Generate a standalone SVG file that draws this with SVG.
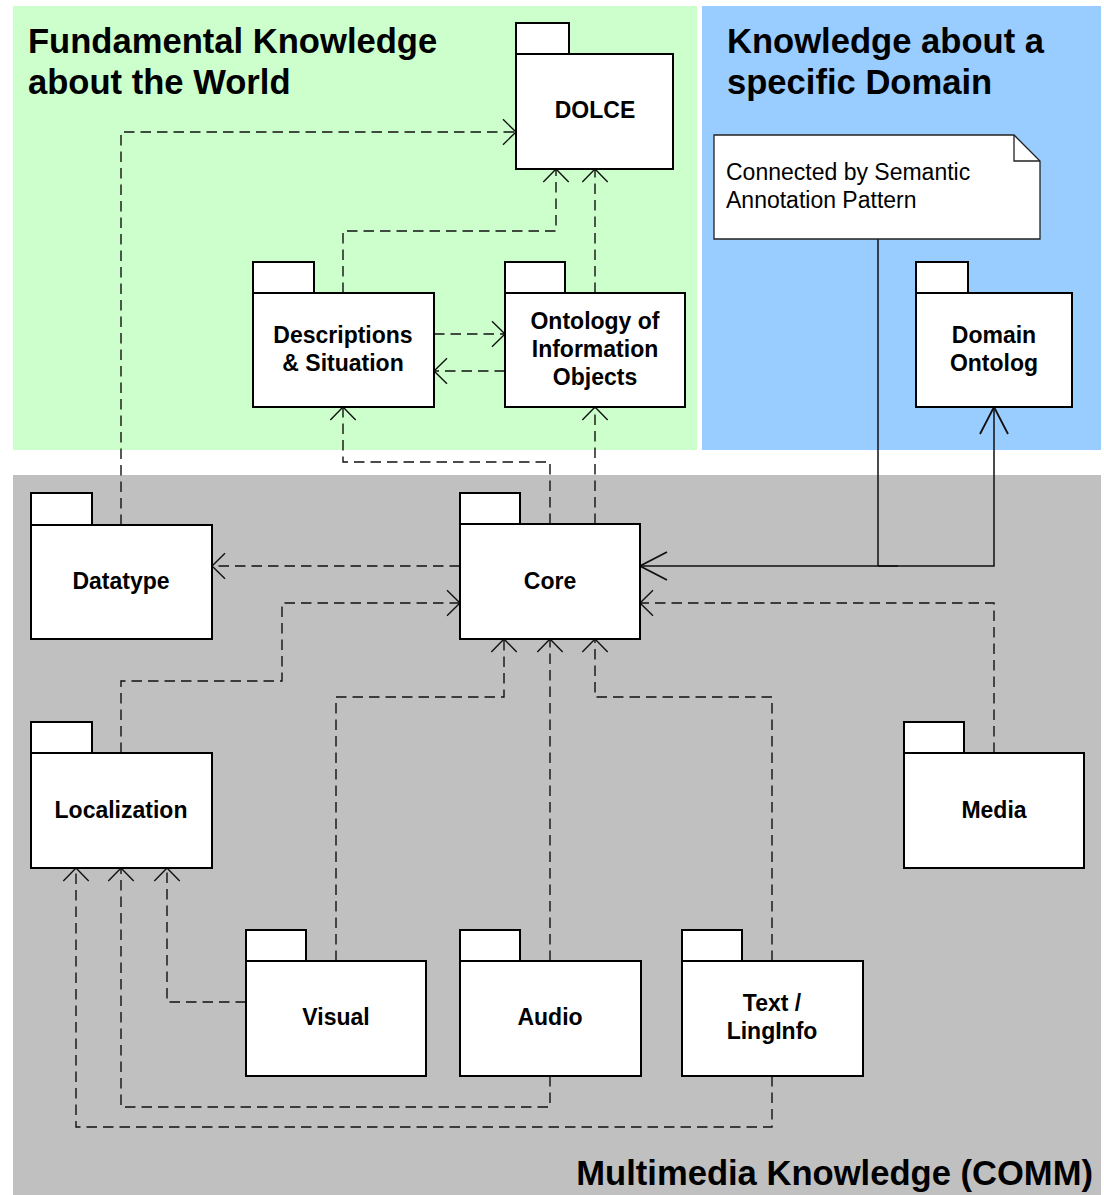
<svg xmlns="http://www.w3.org/2000/svg" width="1104" height="1195" viewBox="0 0 1104 1195">
<style>
.pkg rect{fill:#fff;stroke:#000;stroke-width:2}
.lbl{font-family:"Liberation Sans",Arial,sans-serif;font-weight:bold;font-size:23px;text-anchor:middle;fill:#000}
.title{font-family:"Liberation Sans",Arial,sans-serif;font-weight:bold;font-size:34.6px;fill:#000}
.dash{fill:none;stroke:#111;stroke-width:1.4;stroke-dasharray:10.5,6}
.solid{fill:none;stroke:#111;stroke-width:1.5}
</style>
<defs>
<marker id="a" markerUnits="userSpaceOnUse" orient="auto" markerWidth="40" markerHeight="40" viewBox="-20 -20 40 40" refX="0" refY="0" overflow="visible">
<path d="M-13,-12.7 L0,0 L-13,12.7" fill="none" stroke="#111" stroke-width="1.4" stroke-dasharray="none"/>
</marker>
<marker id="b" markerUnits="userSpaceOnUse" orient="auto" markerWidth="60" markerHeight="60" viewBox="-30 -30 60 60" refX="0" refY="0" overflow="visible">
<path d="M-27,-14 L0,0 L-27,14" fill="none" stroke="#111" stroke-width="1.8"/>
</marker>
</defs>
<rect x="0" y="0" width="1104" height="1195" fill="#fff"/>
<g id="regions">
<rect x="13" y="6" width="684" height="444" fill="#ccffcc"/>
<rect x="702" y="6" width="399" height="444" fill="#99ccff"/>
<rect x="13" y="475" width="1088" height="720" fill="#c0c0c0"/>
<text class="title" x="28" y="53">Fundamental Knowledge</text>
<text class="title" x="28" y="94">about the World</text>
<text class="title" x="727" y="53">Knowledge about a</text>
<text class="title" x="727" y="94">specific Domain</text>
<text class="title" x="1093" y="1185" text-anchor="end">Multimedia Knowledge (COMM)</text>
</g>
<g id="connectors">
<path class="dash" d="M121,525 V132 H516" marker-end="url(#a)"/>
<path class="dash" d="M343,293 V231 H556 V169" marker-end="url(#a)"/>
<path class="dash" d="M595,293 V169" marker-end="url(#a)"/>
<path class="dash" d="M434,334 H505" marker-end="url(#a)"/>
<path class="dash" d="M505,371 H434" marker-end="url(#a)"/>
<path class="dash" d="M550,524 V462 H343 V407" marker-end="url(#a)"/>
<path class="dash" d="M595,524 V407" marker-end="url(#a)"/>
<path class="dash" d="M460,566 H212" marker-end="url(#a)"/>
<path class="dash" d="M121,753 V681 H282 V603 H460" marker-end="url(#a)"/>
<path class="dash" d="M336,961 V697 H504 V639" marker-end="url(#a)"/>
<path class="dash" d="M550,961 V639" marker-end="url(#a)"/>
<path class="dash" d="M772,961 V697 H595 V639" marker-end="url(#a)"/>
<path class="dash" d="M994,753 V603 H640" marker-end="url(#a)"/>
<path class="dash" d="M246,1002 H167 V868" marker-end="url(#a)"/>
<path class="dash" d="M550,1076 V1107 H121 V868" marker-end="url(#a)"/>
<path class="dash" d="M772,1076 V1127 H76 V868" marker-end="url(#a)"/>
<path class="solid" d="M878,239 V566"/>
<path class="solid" d="M898,566 H640" marker-end="url(#b)"/>
<path class="solid" d="M878,566 H994 V407" marker-end="url(#b)"/>
</g>
<g id="note">
<path d="M714,135 H1014 L1040,161 V239 H714 Z" fill="#fff" stroke="#222" stroke-width="1.3"/>
<path d="M1014,135 V161 H1040" fill="none" stroke="#222" stroke-width="1.3"/>
<text font-family="'Liberation Sans',Arial,sans-serif" font-size="23" fill="#000"><tspan x="726" y="180">Connected by Semantic</tspan><tspan x="726" y="208">Annotation Pattern</tspan></text>
</g>
<g id="dolce" class="pkg">
<rect x="516" y="23" width="53" height="31"/><rect x="516" y="54" width="157" height="115"/>
<text class="lbl" x="595" y="118">DOLCE</text>
</g>
<g id="ds" class="pkg">
<rect x="253" y="262" width="61" height="31"/><rect x="253" y="293" width="181" height="114"/>
<text class="lbl" x="343" y="343">Descriptions</text><text class="lbl" x="343" y="371">&amp; Situation</text>
</g>
<g id="oio" class="pkg">
<rect x="505" y="262" width="60" height="31"/><rect x="505" y="293" width="180" height="114"/>
<text class="lbl" x="595" y="329">Ontology of</text><text class="lbl" x="595" y="357">Information</text><text class="lbl" x="595" y="385">Objects</text>
</g>
<g id="domain" class="pkg">
<rect x="916" y="262" width="52" height="31"/><rect x="916" y="293" width="156" height="114"/>
<text class="lbl" x="994" y="343">Domain</text><text class="lbl" x="994" y="371">Ontolog</text>
</g>
<g id="datatype" class="pkg">
<rect x="31" y="493" width="61" height="32"/><rect x="31" y="525" width="181" height="114"/>
<text class="lbl" x="121" y="589">Datatype</text>
</g>
<g id="core" class="pkg">
<rect x="460" y="493" width="60" height="31"/><rect x="460" y="524" width="180" height="115"/>
<text class="lbl" x="550" y="589">Core</text>
</g>
<g id="localization" class="pkg">
<rect x="31" y="722" width="61" height="31"/><rect x="31" y="753" width="181" height="115"/>
<text class="lbl" x="121" y="818">Localization</text>
</g>
<g id="media" class="pkg">
<rect x="904" y="722" width="60" height="31"/><rect x="904" y="753" width="180" height="115"/>
<text class="lbl" x="994" y="818">Media</text>
</g>
<g id="visual" class="pkg">
<rect x="246" y="930" width="60" height="31"/><rect x="246" y="961" width="180" height="115"/>
<text class="lbl" x="336" y="1025">Visual</text>
</g>
<g id="audio" class="pkg">
<rect x="460" y="930" width="60" height="31"/><rect x="460" y="961" width="181" height="115"/>
<text class="lbl" x="550" y="1025">Audio</text>
</g>
<g id="text" class="pkg">
<rect x="682" y="930" width="60" height="31"/><rect x="682" y="961" width="181" height="115"/>
<text class="lbl" x="772" y="1011">Text /</text><text class="lbl" x="772" y="1039">LingInfo</text>
</g>
</svg>
